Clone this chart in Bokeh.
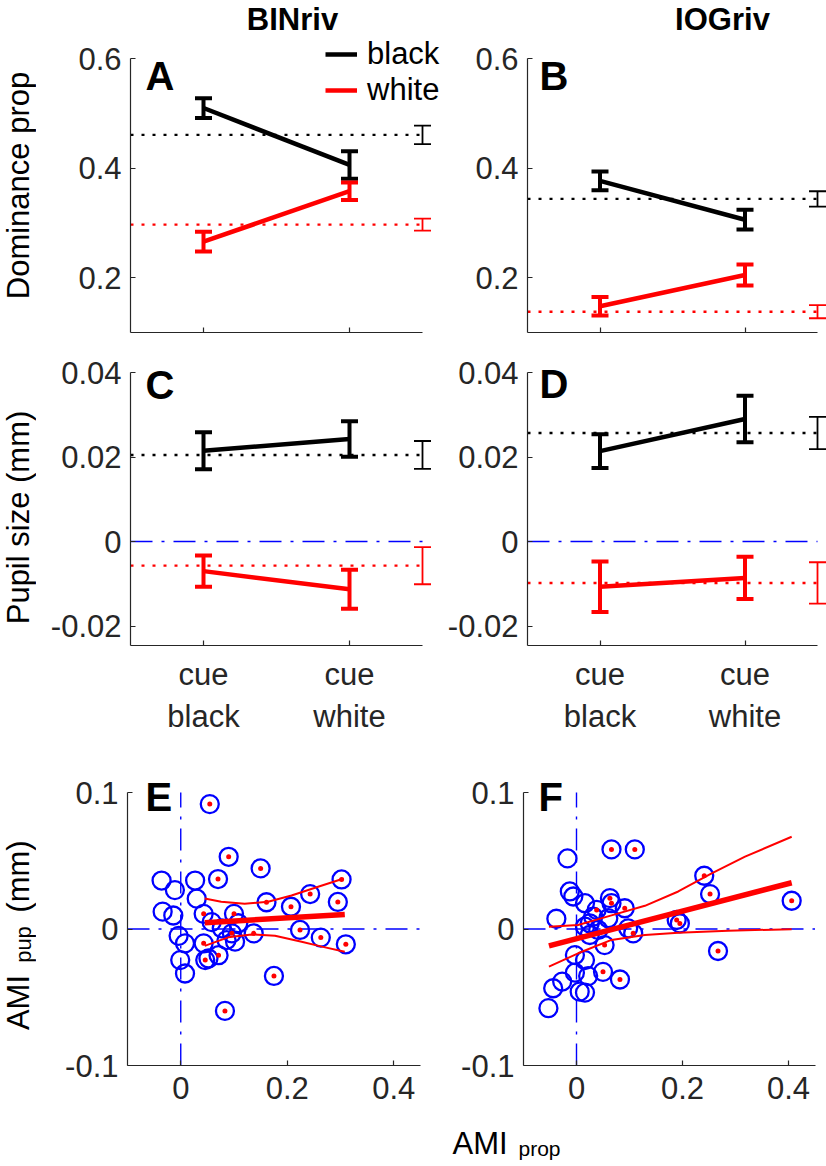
import numpy as np
from bokeh.plotting import figure
from bokeh.models import Range1d, FixedTicker, Label, Legend, LegendItem
from bokeh.layouts import column, row
from bokeh.embed import file_html
from bokeh.resources import INLINE

FONT = "Liberation Sans"
AX = "#262626"
BLUE = "#0000ff"
RED = "#ff0000"
BLACK = "#000000"

# ---------------- data ----------------
conds = [1, 2]
cond_labels = ["cue\nblack", "cue\nwhite"]
x_start = 0.5
base_x = 2.5

# Panel A (BINriv, dominance proportion)
A_black = [0.510, 0.406]
A_black_err = [0.018, 0.025]
A_white = [0.266, 0.358]
A_white_err = [0.018, 0.016]
A_black_base = 0.461
A_black_base_err = 0.017
A_white_base = 0.297
A_white_base_err = 0.011

# Panel B (IOGriv, dominance proportion)
B_black = [0.377, 0.306]
B_black_err = [0.017, 0.018]
B_white = [0.148, 0.205]
B_white_err = [0.017, 0.019]
B_black_base = 0.344
B_black_base_err = 0.014
B_white_base = 0.138
B_white_base_err = 0.012

# Panel C (BINriv, pupil size)
C_black = [0.0215, 0.0243]
C_black_err = [0.0044, 0.0042]
C_white = [-0.0070, -0.0113]
C_white_err = [0.0037, 0.0046]
C_black_base = 0.0205
C_black_base_err = 0.0033
C_white_base = -0.0057
C_white_base_err = 0.0044

# Panel D (IOGriv, pupil size)
D_black = [0.0214, 0.0290]
D_black_err = [0.0040, 0.0055]
D_white = [-0.0107, -0.0086]
D_white_err = [0.0060, 0.0050]
D_black_base = 0.0257
D_black_base_err = 0.0038
D_white_base = -0.0098
D_white_base_err = 0.0049

dom_lim = (0.1, 0.6)
dom_ticks = [0.2, 0.4, 0.6]
dom_labels = ["0.2", "0.4", "0.6"]
pup_lim = (-0.0246, 0.04)
pup_ticks = [-0.02, 0.0, 0.02, 0.04]
pup_labels = ["-0.02", "0", "0.02", "0.04"]
ami_xlim = (-0.1, 0.45)
ami_ylim = (-0.1, 0.1)
ami_yticks = [-0.1, 0.0, 0.1]
ami_ylabels = ["-0.1", "0", "0.1"]
ami_xticks = [0.0, 0.2, 0.4]
ami_xlabels = ["0", "0.2", "0.4"]

# Panel E scatter (AMI prop, AMI pup, significant flag)
E_x = [0.0545, 0.090, 0.150, 0.070, -0.036, 0.027, -0.011, 0.030, 0.302, 0.243,
       0.161, 0.207, 0.295, -0.034, -0.014, 0.043, 0.100, 0.058, -0.004, 0.008,
       0.043, 0.077, 0.096, 0.108, 0.086, 0.102, 0.137, 0.224, 0.263, 0.310,
       -0.001, 0.008, 0.046, 0.052, 0.071, 0.175, 0.083]
E_y = [0.0915, 0.0529, 0.0444, 0.0366, 0.0355, 0.0355, 0.0285, 0.0222, 0.0363, 0.0256,
       0.0196, 0.0163, 0.0198, 0.0127, 0.0099, 0.0111, 0.0111, 0.0050, -0.0050, -0.0105,
       -0.0105, 0.0005, -0.0032, 0.0042, -0.0081, -0.0093, -0.0032, -0.0007, -0.0063, -0.0112,
       -0.0228, -0.0326, -0.0228, -0.0216, -0.0192, -0.0344, -0.0600]
E_sig = [1, 1, 1, 1, 0, 0, 0, 0, 1, 1,
         1, 1, 1, 0, 0, 1, 1, 1, 0, 0,
         1, 0, 1, 0, 0, 0, 1, 1, 1, 1,
         0, 0, 1, 0, 1, 1, 1]
E_fit_x = [0.045, 0.308]
E_fit_y = [0.0046, 0.0107]
E_ci_up_x = [0.045, 0.076, 0.120, 0.164, 0.208, 0.258, 0.306]
E_ci_up_y = [0.0224, 0.0200, 0.0185, 0.0200, 0.0245, 0.0310, 0.0370]
E_ci_lo_x = [0.045, 0.089, 0.133, 0.177, 0.227, 0.265, 0.308]
E_ci_lo_y = [-0.0124, -0.0061, -0.0040, -0.0049, -0.0093, -0.0129, -0.0166]

# Panel F scatter
F_x = [0.066, 0.110, -0.017, 0.241, 0.252, 0.406, -0.0126, -0.006, 0.016, 0.063,
       0.066, 0.091, 0.038, -0.038, 0.0315, 0.060, 0.016, 0.025, 0.041, 0.0975,
       0.107, 0.025, 0.189, 0.195, 0.053, 0.267, -0.003, 0.016, -0.003, 0.022,
       0.050, 0.082, -0.027, -0.044, 0.006, 0.016, -0.053]
F_y = [0.0583, 0.0583, 0.0517, 0.0390, 0.0256, 0.0207, 0.0275, 0.0238, 0.0189, 0.0226,
       0.0189, 0.0152, 0.0140, 0.0075, 0.0090, 0.0079, 0.0017, 0.0042, -0.0007, 0.0005,
       -0.0032, -0.0044, 0.0066, 0.0041, -0.0118, -0.0161, -0.0191, -0.0228, -0.0320, -0.0345,
       -0.0314, -0.0370, -0.0385, -0.0434, -0.0459, -0.0466, -0.0580]
F_sig = [1, 1, 0, 1, 1, 1, 0, 0, 0, 1,
         1, 1, 1, 0, 0, 0, 0, 0, 0, 0,
         1, 0, 1, 1, 1, 1, 0, 0, 0, 0,
         1, 1, 0, 0, 0, 0, 0]
F_fit_x = [-0.052, 0.406]
F_fit_y = [-0.0124, 0.0339]
F_ci_up_x = [-0.052, 0.003, 0.066, 0.129, 0.192, 0.255, 0.318, 0.406]
F_ci_up_y = [0.0017, 0.0029, 0.0100, 0.0170, 0.0275, 0.0407, 0.0530, 0.0676]
F_ci_lo_x = [-0.052, 0.003, 0.066, 0.129, 0.192, 0.286, 0.406]
F_ci_lo_y = [-0.0276, -0.0178, -0.0080, -0.0044, -0.0027, -0.0012, -0.0002]

# ---------------- helpers ----------------
TICK_FS = "31px"
DOT = "3 8"
DASHDOT = "22 9 3 9"


def make_fig(w, h, bl, bb, xr, yr):
    # frame extends to top/right edge of the figure; axes limited with bounds
    p = figure(width=w, height=h, x_range=Range1d(*xr), y_range=Range1d(*yr),
               output_backend="svg", toolbar_location=None,
               min_border_left=bl, min_border_right=0,
               min_border_top=0, min_border_bottom=bb)
    p.xgrid.visible = False
    p.ygrid.visible = False
    p.outline_line_color = None
    p.background_fill_color = "white"
    p.border_fill_color = "white"
    for ax in (p.xaxis[0], p.yaxis[0]):
        ax.axis_line_color = AX
        ax.axis_line_width = 1.2
        ax.major_tick_line_color = AX
        ax.major_tick_line_width = 1.2
        ax.major_tick_in = 5
        ax.major_tick_out = 0
        ax.minor_tick_line_color = None
        ax.major_label_text_font = FONT
        ax.major_label_text_font_size = TICK_FS
        ax.major_label_text_color = AX
    p.yaxis.major_label_standoff = 9
    p.xaxis.major_label_standoff = 11
    return p


def blank_fig(w, h):
    p = figure(width=w, height=h, x_range=Range1d(0, w), y_range=Range1d(0, h),
               output_backend="svg", toolbar_location=None,
               x_axis_type=None, y_axis_type=None, min_border=0)
    p.xgrid.visible = False
    p.ygrid.visible = False
    p.outline_line_color = None
    p.background_fill_color = "white"
    p.border_fill_color = "white"
    return p


def set_ticks(ax, ticks, labels):
    ax.ticker = FixedTicker(ticks=ticks)
    ax.major_label_overrides = {t: l for t, l in zip(ticks, labels)}


def add_label(p, x, y, text, size="31px", bold=False, angle=0.0, align="left"):
    p.add_layout(Label(x=x, y=y, x_units="screen", y_units="screen", text=text,
                       text_font=FONT, text_font_size=size,
                       text_font_style="bold" if bold else "normal",
                       text_color="black", angle=angle, text_align=align,
                       text_baseline="alphabetic"))


def errbars(p, xs, ys, errs, color, lw, cap):
    xs = np.asarray(xs, float)
    ys = np.asarray(ys, float)
    e = np.asarray(errs, float)
    p.segment(xs, ys - e, xs, ys + e, line_color=color, line_width=lw)
    p.scatter(np.concatenate([xs, xs]), np.concatenate([ys - e, ys + e]),
              marker="dash", size=cap, line_color=color, line_width=lw)


def cue_panel(w, h, bl, bb, frame_w, frame_h, px_x, px_y, ylim, yticks, ylabels, show_x,
              black, black_err, white, white_err, bb_v, bb_e, wb_v, wb_e, zero_line):
    xr = (x_start, x_start + frame_w / px_x)
    yr = (ylim[0], ylim[0] + frame_h / px_y)
    p = make_fig(w, h, bl, bb, xr, yr)
    set_ticks(p.yaxis[0], yticks, ylabels)
    set_ticks(p.xaxis[0], conds, cond_labels if show_x else ["", ""])
    p.xaxis.bounds = (x_start, base_x)
    p.yaxis.bounds = ylim
    if not show_x:
        p.xaxis.major_label_text_font_size = "1px"
        p.xaxis.major_label_standoff = 0
    if zero_line:
        p.line([x_start, base_x], [0, 0], line_color=BLUE, line_width=1.4,
               line_dash=DASHDOT)
    # baseline dotted references
    p.line([x_start, base_x], [bb_v, bb_v], line_color=BLACK, line_width=2.4,
           line_dash=DOT)
    p.line([x_start, base_x], [wb_v, wb_v], line_color=RED, line_width=2.4,
           line_dash=DOT)
    errbars(p, [base_x], [bb_v], [bb_e], BLACK, 1.8, 17)
    errbars(p, [base_x], [wb_v], [wb_e], RED, 1.8, 17)
    rb = p.line(conds, black, line_color=BLACK, line_width=4.5)
    rw = p.line(conds, white, line_color=RED, line_width=4.5)
    errbars(p, conds, black, black_err, BLACK, 4, 17)
    errbars(p, conds, white, white_err, RED, 4, 17)
    return p, rb, rw


def scatter_panel(w, h, bl, bb, frame_w, frame_h, px_x, px_y,
                  xs, ys, sig, fx, fy, ux, uy, lx, ly):
    xr = (ami_xlim[0], ami_xlim[0] + frame_w / px_x)
    yr = (ami_ylim[0], ami_ylim[0] + frame_h / px_y)
    p = make_fig(w, h, bl, bb, xr, yr)
    set_ticks(p.yaxis[0], ami_yticks, ami_ylabels)
    set_ticks(p.xaxis[0], ami_xticks, ami_xlabels)
    p.xaxis.bounds = ami_xlim
    p.yaxis.bounds = ami_ylim
    p.line([0, 0], list(ami_ylim), line_color=BLUE, line_width=1.4, line_dash=DASHDOT)
    p.line(list(ami_xlim), [0, 0], line_color=BLUE, line_width=1.4, line_dash=DASHDOT)
    xs = np.asarray(xs, float)
    ys = np.asarray(ys, float)
    s = np.asarray(sig) == 1
    p.scatter(xs, ys, marker="circle", size=18, fill_color=None, line_color=BLUE,
              line_width=2.3)
    p.scatter(xs[s], ys[s], marker="circle", size=5, fill_color=RED, line_color=None)
    p.line(ux, uy, line_color=RED, line_width=2)
    p.line(lx, ly, line_color=RED, line_width=2)
    p.line(fx, fy, line_color=RED, line_width=5.5)
    return p


# ---------------- layout geometry ----------------
# left label strip: 36 px; column 1: 406 px; column 2: 384 px
# row heights: 352, 388, 385, bottom strip 41
pA, rbA, rwA = cue_panel(406, 352, 94, 20, 312, 332, 146, 547.5, dom_lim,
                         dom_ticks, dom_labels, False,
                         A_black, A_black_err, A_white, A_white_err,
                         A_black_base, A_black_base_err, A_white_base, A_white_base_err, False)
pB, _, _ = cue_panel(384, 352, 85, 20, 299, 332, 145, 547.5, dom_lim,
                     dom_ticks, dom_labels, False,
                     B_black, B_black_err, B_white, B_white_err,
                     B_black_base, B_black_base_err, B_white_base, B_white_base_err, False)
pC, _, _ = cue_panel(406, 388, 94, 95, 312, 293, 146, 4225, pup_lim,
                     pup_ticks, pup_labels, True,
                     C_black, C_black_err, C_white, C_white_err,
                     C_black_base, C_black_base_err, C_white_base, C_white_base_err, True)
pD, _, _ = cue_panel(384, 388, 85, 95, 299, 293, 145, 4225, pup_lim,
                     pup_ticks, pup_labels, True,
                     D_black, D_black_err, D_white, D_white_err,
                     D_black_base, D_black_base_err, D_white_base, D_white_base_err, True)
pE = scatter_panel(406, 385, 91, 60, 315, 325, 532.5, 1365,
                   E_x, E_y, E_sig, E_fit_x, E_fit_y, E_ci_up_x, E_ci_up_y, E_ci_lo_x, E_ci_lo_y)
pF = scatter_panel(384, 385, 81, 60, 303, 325, 530, 1365,
                   F_x, F_y, F_sig, F_fit_x, F_fit_y, F_ci_up_x, F_ci_up_y, F_ci_lo_x, F_ci_lo_y)

# legend in A
legend = Legend(items=[LegendItem(label="black", renderers=[rbA]),
                       LegendItem(label="white", renderers=[rwA])],
                location=(195, 224), border_line_color=None, background_fill_alpha=0,
                padding=0, margin=0, spacing=-4, glyph_width=32, glyph_height=20,
                label_standoff=10, label_text_font=FONT, label_text_font_size="31px",
                label_text_color="black")
pA.add_layout(legend)

# titles
add_label(pA, 162, 313, "BINriv", size="31px", bold=True, align="center")
add_label(pB, 195, 313, "IOGriv", size="31px", bold=True, align="center")
# panel letters
add_label(pA, 15, 257, "A", size="40px", bold=True)
add_label(pB, 12, 257, "B", size="40px", bold=True)
add_label(pC, 15, 261, "C", size="40px", bold=True)
add_label(pD, 12, 262, "D", size="40px", bold=True)
add_label(pE, 18, 269, "E", size="40px", bold=True)
add_label(pF, 15, 269, "F", size="40px", bold=True)

# left strip with y labels
pL = blank_fig(36, 1166)
add_label(pL, 18, 981, "Dominance prop", angle=np.pi / 2, align="center")
add_label(pL, 18, 649, "Pupil size (mm)", angle=np.pi / 2, align="center")
add_label(pL, 18, 164, "AMI", angle=np.pi / 2, align="center")
add_label(pL, 23, 222, "pup", size="22px", angle=np.pi / 2, align="center")
add_label(pL, 18, 290, "(mm)", angle=np.pi / 2, align="center")

# bottom strip with x label
pX = blank_fig(790, 41)
add_label(pX, 416, 23, "AMI")
add_label(pX, 482, 18, "prop", size="21px")

layout = row(pL, column(row(pA, pB), row(pC, pD), row(pE, pF), pX))

open("out.html", "w").write(file_html(layout, INLINE))
